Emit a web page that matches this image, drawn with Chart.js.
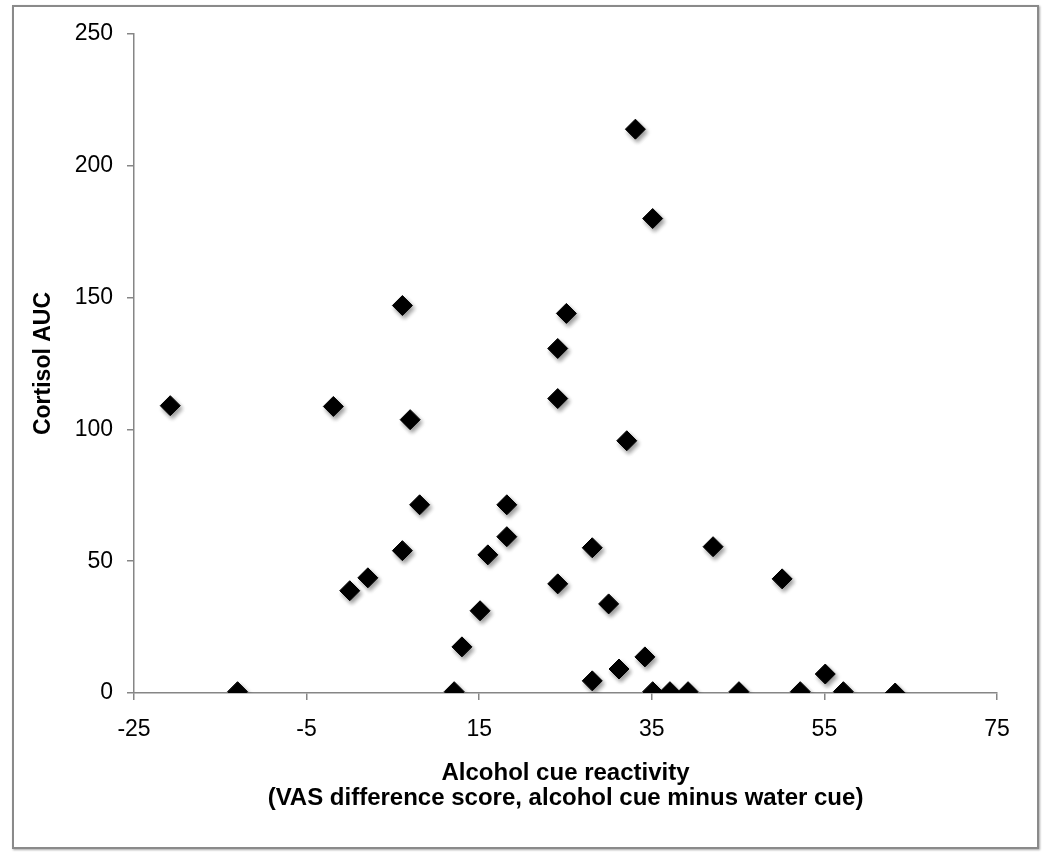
<!DOCTYPE html>
<html>
<head>
<meta charset="utf-8">
<script src="https://cdn.jsdelivr.net/npm/chart.js@4/dist/chart.umd.min.js"></script>
<style>
  html, body { margin: 0; padding: 0; background: #fff; }
  #wrap { position: relative; width: 1050px; height: 863px; }
  #frame {
    position: absolute; left: 12px; top: 5px; width: 1023px; height: 840px;
    border: 2px solid #8a8a8a; box-shadow: 1px 1px 2px rgba(0,0,0,0.35);
  }
  #myChart { position: absolute; left: 0; top: 0; }
</style>
</head>
<body>
<div id="wrap">
  <div id="frame"></div>
  <canvas id="myChart" width="1050" height="863"></canvas>
</div>
<script>
// values
const cueReactivity = [
  -20.8, -13.0, -1.9, 0.0, 2.1, 6.1, 6.1, 7.0, 8.1, 12.1,
  13.0, 15.1, 16.0, 18.2, 18.2, 24.1, 24.1, 24.1, 25.1, 28.1,
  28.1, 30.0, 31.2, 32.1, 33.1, 34.2, 35.1, 35.1, 37.1, 39.2,
  42.1, 45.1, 50.1, 52.2, 55.1, 57.2, 63.2
];
const cortisolAUC = [
  109, 0.5, 108.7, 38.8, 43.7, 147, 54, 103.7, 71.4, 0.5,
  17.5, 31.2, 52.4, 71.4, 59.3, 130.7, 111.7, 41.4, 144, 55.1,
  4.6, 33.8, 9.1, 95.7, 213.9, 13.7, 180, 0.5, 0.5, 0.5,
  55.5, 0.5, 43.3, 0.5, 7.2, 0.5, 0
];
const xTicks = [-25, -5, 15, 35, 55, 75];
const yTicks = [0, 50, 100, 150, 200, 250];

const axisGray = "#868686";
const points = cueReactivity.map((x, i) => ({ x: x, y: cortisolAUC[i] }));

// soft drop shadow under the diamonds
const markerShadow = {
  id: "markerShadow",
  beforeDatasetsDraw(chart) {
    const ctx = chart.ctx;
    ctx.save();
    ctx.shadowColor = "rgba(0,0,0,0.4)";
    ctx.shadowBlur = 4;
    ctx.shadowOffsetX = 2;
    ctx.shadowOffsetY = 3;
  },
  afterDatasetsDraw(chart) {
    chart.ctx.restore();
  }
};

let ctx = document.getElementById("myChart").getContext("2d");
const myChart = new Chart(ctx, {
  type: "scatter",
  data: {
    datasets: [
      {
        label: "Cortisol AUC",
        data: points,
        pointStyle: "rectRot",
        pointRadius: 10,
        pointHoverRadius: 10,
        backgroundColor: "#000",
        borderColor: "#000",
        borderWidth: 1
      }
    ]
  },
  options: {
    responsive: false,
    animation: false,
    layout: { padding: { left: 0, right: 53, top: 34, bottom: 0 } },
    plugins: {
      legend: { display: false },
      tooltip: { enabled: false }
    },
    scales: {
      x: {
        type: "linear",
        min: -25,
        max: 75,
        afterBuildTicks: (scale) => { scale.ticks = xTicks.map(v => ({ value: v })); },
        afterFit: (scale) => { scale.height = 170; },
        border: { color: axisGray, width: 1.5 },
        grid: { drawOnChartArea: false, drawTicks: true, tickLength: 7, color: axisGray, lineWidth: 1.5 },
        ticks: { color: "#000", padding: 16, font: { family: "Liberation Sans", size: 23 } },
        title: {
          display: true,
          text: ["Alcohol cue reactivity", "(VAS difference score, alcohol cue minus water cue)"],
          color: "#000",
          font: { family: "Liberation Sans", size: 24, weight: "bold", lineHeight: 1.05 },
          padding: { top: 0, bottom: 52 }
        }
      },
      y: {
        type: "linear",
        min: 0,
        max: 250,
        afterBuildTicks: (scale) => { scale.ticks = yTicks.map(v => ({ value: v })); },
        afterFit: (scale) => { scale.width = 134; },
        border: { color: axisGray, width: 1.5 },
        grid: { drawOnChartArea: false, drawTicks: true, tickLength: 7, color: axisGray, lineWidth: 1.5 },
        ticks: { color: "#000", padding: 14, font: { family: "Liberation Sans", size: 23 } },
        title: {
          display: true,
          text: "Cortisol AUC",
          color: "#000",
          font: { family: "Liberation Sans", size: 23, weight: "bold", lineHeight: 1.2 },
          padding: { top: 30, bottom: 0 }
        }
      }
    }
  },
  plugins: [markerShadow]
});
</script>
</body>
</html>
